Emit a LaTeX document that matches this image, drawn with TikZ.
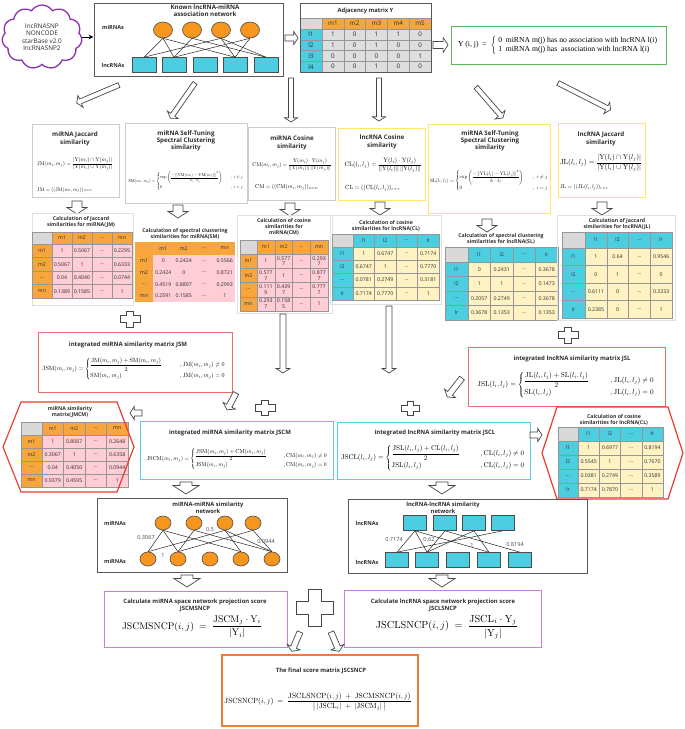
\documentclass[tikz,border=0pt]{standalone}
\usepackage{amsmath}
\usepackage[no-math]{fontspec}
\usepackage{graphicx}
\setmainfont{Open Sans}
\newfontfamily\serifrm{Liberation Serif}
\usetikzlibrary{shapes.geometric,shapes.symbols,arrows.meta}

\definecolor{miorange}{RGB}{247,166,62}
\definecolor{nodeorange}{RGB}{247,150,30}
\definecolor{lncblue}{RGB}{77,206,224}
\definecolor{mipink}{RGB}{255,205,214}
\definecolor{lncyellow}{RGB}{255,243,196}
\definecolor{cornergray}{RGB}{217,217,217}
\definecolor{adjgray}{RGB}{222,222,222}
\definecolor{gridgray}{RGB}{150,150,150}
\definecolor{txtgray}{RGB}{45,45,45}
\definecolor{panelgray}{RGB}{205,205,205}
\definecolor{paleyellow}{RGB}{255,228,110}
\definecolor{palered}{RGB}{230,110,110}
\definecolor{hexred}{RGB}{232,62,50}
\definecolor{jscyan}{RGB}{90,205,232}
\definecolor{sncpviolet}{RGB}{205,125,225}
\definecolor{finalorange}{RGB}{237,125,49}
\definecolor{boxgreen}{RGB}{90,185,90}
\definecolor{cloudpurple}{RGB}{140,50,180}
\definecolor{arrowgray}{RGB}{70,70,70}

\tikzset{
  cell/.style={draw=gridgray, line width=0.4, inner sep=0, align=center, text=txtgray,
    font=\fontsize{5.2}{5.6}\selectfont},
  micorner/.style={fill=cornergray}, mihead/.style={fill=miorange}, mibody/.style={fill=mipink},
  lnccorner/.style={fill=cornergray}, lnchead/.style={fill=lncblue}, lncbody/.style={fill=lncyellow},
  smcorner/.style={fill=miorange, draw=none}, smhead/.style={fill=miorange, draw=none},
  smbody/.style={fill=mipink, draw=none},
  ttl/.style={align=center, inner sep=0, text=txtgray, font=\bfseries\fontsize{6.2}{7.3}\selectfont},
  tabttl/.style={align=center, inner sep=0, text=txtgray, font=\bfseries\fontsize{5.2}{6.2}\selectfont},
  fml/.style={inner sep=0},
  harrow/.style={draw=arrowgray, fill=white, line width=0.7},
  link/.style={draw=black!85, line width=0.5},
  mnode/.style={ellipse, draw=black!70, fill=nodeorange, line width=0.6, inner sep=0},
  lnode/.style={rectangle, draw=black!70, fill=lncblue, line width=0.6, inner sep=0},
  side/.style={inner sep=0, text=txtgray, font=\bfseries\fontsize{5.5}{6}\selectfont},
  elabel/.style={inner sep=0, text=black!70, font=\fontsize{5.6}{6}\selectfont},
  frame/.style={draw=black!12, line width=0.5}
}

\newcommand{\fitmath}[2]{\resizebox{#1pt}{!}{$\displaystyle #2$}}

% name, first col w, col w, head h, row h, kind, labels, rows
\newcommand{\simtable}[8]{%
  \node[cell, #6corner, minimum width=#2, minimum height=#4] (#1-0-0) at ({#2/2},{#4/2}) {};
  \foreach \lab [count=\ci] in {#7} {
    \node[cell, #6head, minimum width=#3, minimum height=#4] (#1-0-\ci) at ({#2+(\ci-0.5)*#3},{#4/2}) {\lab};
    \node[cell, #6head, minimum width=#2, minimum height=#5] (#1-\ci-0) at ({#2/2},{#4+(\ci-0.5)*#5}) {\lab};
  }
  \foreach \rowlist [count=\ri] in {#8} {
    \foreach \val [count=\ci] in \rowlist {
      \node[cell, #6body, minimum width=#3, minimum height=#5] (#1-\ri-\ci) at ({#2+(\ci-0.5)*#3},{#4+(\ri-0.5)*#5}) {\val};
    }
  }
}

% tail x, tail y, angle, length, shaft half width, head half width
\newcommand{\hollowarrow}[6]{%
  \begin{scope}[shift={(#1,#2)}, rotate=#3]
    \draw[harrow] (0,-#5) -- ({#4-0.65*#6},-#5) -- ({#4-0.65*#6},-#6) -- (#4,0)
      -- ({#4-0.65*#6},#6) -- ({#4-0.65*#6},#5) -- (0,#5) -- cycle;
  \end{scope}}

% x, y, half width, half height, half thickness
\newcommand{\plusmark}[5]{%
  \draw[harrow] ({#1-#5},{#2-#4}) -- ({#1+#5},{#2-#4}) -- ({#1+#5},{#2-#5}) -- ({#1+#3},{#2-#5})
    -- ({#1+#3},{#2+#5}) -- ({#1+#5},{#2+#5}) -- ({#1+#5},{#2+#4}) -- ({#1-#5},{#2+#4})
    -- ({#1-#5},{#2+#5}) -- ({#1-#3},{#2+#5}) -- ({#1-#3},{#2-#5}) -- ({#1-#5},{#2-#5}) -- cycle;}

\begin{document}
\begin{tikzpicture}[x=1pt, y=-1pt]
 \useasboundingbox[fill=white] (0,0) rectangle (685,729);

 %sources and known network
 \node[cloud, cloud puffs=11, cloud puff arc=115, aspect=1.25, draw=cloudpurple, line width=1.3,
   minimum width=80, minimum height=64, inner sep=0, align=center, text=txtgray,
   font=\fontsize{6.4}{7.4}\selectfont] (src) at (42,37) {lncRNASNP\\NONCODE\\starBase v2.0\\lncRNASNP2};
 \node[draw=black!65, line width=1, minimum width=189, minimum height=73, inner sep=0] (netBox) at (188.5,39.5) {};
 \draw[-{Stealth[length=5pt,width=4.5pt]}, line width=0.8] (src.east) -- (src.east -| netBox.west);
 \node[ttl] (netTitle) at (205,11) {Known lncRNA-miRNA\\association network};
 \node[side] (netMi) at (113,27) {miRNAs};
 \node[side] (netLn) at (113,65) {lncRNAs};
 \foreach \x [count=\i] in {163,192,221,250}
   \node[mnode, minimum width=19, minimum height=16] (mi\i) at (\x,30) {};
 \foreach \x [count=\i] in {144,174,205,235,266}
   \node[lnode, minimum width=24, minimum height=15] (ln\i) at (\x,65) {};
 \foreach \a/\b in {1/1,1/2,1/4,2/2,2/5,3/1,3/4,3/5,4/2,4/4}
   \draw[link] (mi\a.south) -- (ln\b.north);

 %adjacency matrix
 \begin{scope}[shift={(300,18)}]
  \node[cell, fill=cornergray, minimum width=22, minimum height=11] (Y-0-0) at (11,5.5) {};
  \foreach \lab [count=\ci] in {m1,m2,m3,m4,m5}
    \node[cell, fill=miorange, minimum width=21.8, minimum height=11, font=\fontsize{6.3}{7}\selectfont]
      (Y-0-\ci) at ({22+(\ci-0.5)*21.8},5.5) {\lab};
  \foreach \rowlist [count=\ri] in {{1,0,1,1,0},{1,0,1,0,0},{0,0,0,0,1},{0,0,1,0,0}} {
    \node[cell, fill=lncblue, minimum width=22, minimum height=10.75, font=\fontsize{6.3}{7}\selectfont]
      (Y-\ri-0) at (11,{11+(\ri-0.5)*10.75}) {l\ri};
    \foreach \val [count=\ci] in \rowlist
      \node[cell, fill=adjgray, minimum width=21.8, minimum height=10.75, font=\fontsize{6.3}{7}\selectfont]
        (Y-\ri-\ci) at ({22+(\ci-0.5)*21.8},{11+(\ri-0.5)*10.75}) {\val};
  }
 \end{scope}
 \draw[black!65, line width=0.9] (300,3) rectangle (431,72);
 \node[ttl, font=\bfseries\fontsize{5.8}{6.8}\selectfont] (adjTitle) at (365.5,10.5) {Adjacency matrix Y};

 \draw[boxgreen, line width=1] (451,26) rectangle (666,64);
 \node[fml] (yDef) at (558,45) {\resizebox{200pt}{!}{\serifrm Y (i, j)\ \ =\ \ $\left\{\begin{tabular}{@{\ }l@{\ \ }l@{}}0 & miRNA m(j) has no association with lncRNA l(i)\\ 1 & miRNA m(j) has\ \ association with lncRNA l(i)\end{tabular}\right.$}};

 \hollowarrow{285}{38}{0}{13}{3}{6.5}
 \hollowarrow{433}{45}{0}{15}{3.5}{7.5}
 \hollowarrow{119}{85}{-157}{46}{2.5}{6.5}
 \hollowarrow{195}{83}{-125}{43}{2.5}{6.5}
 \hollowarrow{291}{78}{-90}{44}{2.5}{6.5}
 \hollowarrow{379}{78}{-90}{43}{2.5}{6.5}
 \hollowarrow{476}{87}{-49}{41}{2.5}{6.5}
 \hollowarrow{558}{83}{-27}{59}{2.5}{6.5}

 %similarity measures
 \draw[panelgray, line width=0.9] (32,124) rectangle (119,197);
 \node[ttl] (jmTitle) at (75,139) {miRNA Jaccard\\similarity};
 \node[fml] (jmF) at (75,164) {\fitmath{76}{\mathrm{JM}(m_i,m_j)=\frac{|\mathrm{Y}(m_i)\cap\mathrm{Y}(m_j)|}{|\mathrm{Y}(m_i)\cup\mathrm{Y}(m_j)|}}};
 \node[fml, anchor=west] (jmG) at (37,190) {\fitmath{55}{\mathrm{JM}=((\mathrm{JM}(m_i,m_j))_{n\times n}}};

 \draw[panelgray, line width=0.9] (125,123) rectangle (247,203);
 \node[ttl] (smTitle) at (186,141) {miRNA Self-Tuning\\Spectral Clustering\\similarity};
 \node[fml] (smF) at (186,181) {\fitmath{115}{\mathrm{SM}(m_i,m_j)=\begin{cases}\exp\left(\dfrac{-\left\|\mathrm{YM}(m_i)-\mathrm{YM}(m_j)\right\|^2}{\delta_i\cdot\delta_j}\right) & \quad,\ i\neq j\\[8pt] 0 & \quad,\ i=j\end{cases}}};

 \draw[panelgray, line width=0.9] (248,127) rectangle (335,200);
 \node[ttl] (cmTitle) at (292,143) {miRNA Cosine\\similarity};
 \node[fml] (cmF) at (292,165) {\fitmath{79}{\mathrm{CM}(m_i,m_j)=\frac{\mathrm{Y}(m_i)\cdot\mathrm{Y}(m_j)}{\|\mathrm{Y}(m_i)\|\,\|\mathrm{Y}(m_j)\|}}};
 \node[fml, anchor=west] (cmG) at (255,187) {\fitmath{63}{\mathrm{CM}=((\mathrm{CM}(m_i,m_j))_{n\times n}}};

 \draw[paleyellow, line width=0.9] (338,128) rectangle (425,200);
 \node[ttl] (clTitle) at (382,142) {lncRNA Cosine\\similarity};
 \node[fml] (clF) at (383,165) {\fitmath{77}{\mathrm{CL}(l_i,l_j)=\frac{\mathrm{Y}(l_i)\cdot\mathrm{Y}(l_j)}{\|\mathrm{Y}(l_i)\|\,\|\mathrm{Y}(l_j)\|}}};
 \node[fml, anchor=west] (clG) at (345,188) {\fitmath{55}{\mathrm{CL}=((\mathrm{CL}(l_i,l_j))_{r\times r}}};

 \draw[paleyellow, line width=0.9] (428,124) rectangle (550,213);
 \node[ttl] (slTitle) at (490,141) {miRNA Self-Tuning\\Spectral Clustering\\similarity};
 \node[fml] (slF) at (489,181) {\fitmath{118}{\mathrm{SL}(l_i,l_j)=\begin{cases}\exp\left(\dfrac{-\left\|\mathrm{YL}(l_i)-\mathrm{YL}(l_j)\right\|^2}{\delta_i\cdot\delta_j}\right) & \quad,\ i\neq j\\[8pt] 0 & \quad,\ i=j\end{cases}}};

 \draw[paleyellow, line width=0.9] (558,123) rectangle (645,197);
 \node[ttl] (jlTitle) at (601,139) {lncRNA Jaccard\\similarity};
 \node[fml] (jlF) at (601,163) {\fitmath{82}{\mathrm{JL}(l_i,l_j)=\frac{|\mathrm{Y}(l_i)\cap\mathrm{Y}(l_j)|}{|\mathrm{Y}(l_i)\cup\mathrm{Y}(l_j)|}}};
 \node[fml, anchor=west] (jlG) at (560,187) {\fitmath{48}{\mathrm{JL}=((\mathrm{JL}(l_i,l_j))_{r\times r}}};

 \foreach \x/\y in {77/201,178/205,290/203,380/202,487/219,602/202} {
   \hollowarrow{\x}{\y}{-90}{13}{5}{10}
 }

 %similarity tables
 \draw[frame] (32,213) rectangle (133,305);
 \node[tabttl] (jmtTitle) at (81,222) {Calculation of Jaccard\\similarities for miRNA(JM)};
 \begin{scope}[shift={(32,232)}]
  \simtable{JM}{20}{20}{12}{13.5}{mi}{m1,m2,\dots,mn}
   {{1,0.5067,\dots,0.2295},{0.5067,1,\dots,0.6333},{0.04,0.4040,\dots,0.0744},{0.1389,0.1585,\dots,1}}
 \end{scope}

 \node[tabttl] (smtTitle) at (185,234) {Calculation of spectral clustering\\similarities for miRNA(SM)};
 \begin{scope}[shift={(135,242)}]
  \simtable{SM}{18}{20.5}{13}{11.75}{sm}{m1,m2,\dots,mn}
   {{0,0.2424,\dots,0.5566},{0.2424,0,\dots,0.8721},{0.4519,0.8897,\dots,0.2993},{0.2591,0.1585,\dots,1}}
 \end{scope}

 \draw[frame] (237,215) rectangle (332,313);
 \node[tabttl] (cmtTitle) at (284,227) {Calculation of cosine\\similarities for\\miRNA(CM)};
 \begin{scope}[shift={(240,240)}]
  \simtable{CM}{17}{17.75}{14}{14.25}{mi}{m1,m2,\dots,mn}
   {{1,0.577\\7,\dots,0.293\\7},{0.577\\7,1,\dots,0.877\\7},{0.111\\9,0.439\\7,\dots,0.777\\7},{0.293\\7,0.158\\5,\dots,1}}
 \end{scope}

 \draw[frame] (330,215) rectangle (441,304);
 \node[tabttl] (cltTitle) at (386,226) {Calculation of cosine\\similarities for lncRNA(CL)};
 \begin{scope}[shift={(332,234)}]
  \simtable{CL}{21}{21.5}{13}{13.25}{lnc}{l1,l2,\dots,lr}
   {{1,0.6747,\dots,0.7174},{0.6747,1,\dots,0.7770},{0.0781,0.2749,\dots,0.3181},{0.7174,0.7770,\dots,1}}
 \end{scope}

 \node[tabttl] (sltTitle) at (501,239) {Calculation of spectral clustering\\similarities for lncRNA(SL)};
 \begin{scope}[shift={(445,247)}]
  \simtable{SL}{23}{22.5}{15}{14.5}{lnc}{l1,l2,\dots,lr}
   {{0,0.2431,\dots,0.3678},{1,1,\dots,0.1473},{0.2057,0.2749,\dots,0.3678},{0.3678,0.1353,\dots,0.1353}}
 \end{scope}

 \draw[frame] (557,215) rectangle (675,320);
 \node[tabttl] (jltTitle) at (617,224) {Calculation of Jaccard\\similarities for lncRNA(JL)};
 \begin{scope}[shift={(562,232)}]
  \simtable{JL}{23}{21.75}{16}{17.5}{lnc}{l1,l2,\dots,lr}
   {{1,0.64,\dots,0.9546},{0,1,\dots,0},{0.6111,0,\dots,0.3333},{0.2385,0,\dots,1}}
 \end{scope}

 %integration
 \plusmark{130}{319}{10}{8}{3.2}
 \plusmark{568}{335}{10}{8}{3.2}
 \hollowarrow{283}{314}{-90}{59}{3}{7}
 \hollowarrow{389}{306}{-90}{67}{3}{7}

 \draw[palered, line width=0.9] (38,332) rectangle (232,392);
 \node[ttl, font=\bfseries\fontsize{6}{7}\selectfont] (jsmTitle) at (128,345) {integrated miRNA similarity matrix JSM};
 \node[fml] (jsmF) at (134,369) {\fitmath{183}{\mathrm{JSM}(m_i,m_j)=\begin{cases}\dfrac{\mathrm{JM}(m_i,m_j)+\mathrm{SM}(m_i,m_j)}{2} & \qquad,\mathrm{JM}(m_i,m_j)\neq 0\\ \mathrm{SM}(m_i,m_j) & \qquad,\mathrm{JM}(m_i,m_j)=0\end{cases}}};

 \draw[palered, line width=0.9] (468,347) rectangle (665,406);
 \node[ttl, font=\bfseries\fontsize{6}{7}\selectfont] (jslTitle) at (572,359) {integrated lncRNA similarity matrix JSL};
 \node[fml] (jslF) at (566,385) {\fitmath{177}{\mathrm{JSL}(l_i,l_j)=\begin{cases}\dfrac{\mathrm{JL}(l_i,l_j)+\mathrm{SL}(l_i,l_j)}{2} & \qquad,\mathrm{JL}(l_i,l_j)\neq 0\\ \mathrm{SL}(l_i,l_j) & \qquad,\mathrm{JL}(l_i,l_j)=0\end{cases}}};

 \hollowarrow{236}{393}{-118}{19}{3}{7}
 \hollowarrow{462}{378}{-128}{24}{3}{7}
 \plusmark{265}{408}{10}{7.5}{3.2}
 \plusmark{410}{408}{9}{7}{3}

 \draw[jscyan, line width=0.9] (140,421) rectangle (333,479);
 \node[ttl, font=\bfseries\fontsize{6}{7}\selectfont] (jscmTitle) at (230,433) {integrated miRNA similarity matrix JSCM};
 \node[fml] (jscmF) at (237,459) {\fitmath{181}{\mathrm{JSCM}(m_i,m_j)=\begin{cases}\dfrac{\mathrm{JSM}(m_i,m_j)+\mathrm{CM}(m_i,m_j)}{2} & \qquad,\mathrm{CM}(m_i,m_j)\neq 0\\ \mathrm{JSM}(m_i,m_j) & \qquad,\mathrm{CM}(m_i,m_j)=0\end{cases}}};

 \draw[jscyan, line width=0.9] (337,422) rectangle (530,479);
 \node[ttl, font=\bfseries\fontsize{6}{7}\selectfont] (jsclTitle) at (435,433) {integrated lncRNA similarity matrix JSCL};
 \node[fml] (jsclF) at (433,458) {\fitmath{184}{\mathrm{JSCL}(l_i,l_j)=\begin{cases}\dfrac{\mathrm{JSL}(l_i,l_j)+\mathrm{CL}(l_i,l_j)}{2} & \qquad,\mathrm{CL}(l_i,l_j)\neq 0\\ \mathrm{JSL}(l_i,l_j) & \qquad,\mathrm{CL}(l_i,l_j)=0\end{cases}}};

 \hollowarrow{142}{413}{180}{12}{3}{6.5}
 \hollowarrow{530}{435}{0}{12}{3}{6.5}

 %hexagon tables
 \node[tabttl] (jmcmTitle) at (70,412) {miRNA similarity\\matrix(JMCM)};
 \begin{scope}[shift={(21,422)}]
  \simtable{JMCM}{21}{21.5}{13}{13}{mi}{m1,m2,\dots,mn}
   {{1,0.8067,\dots,0.2648},{0.3067,1,\dots,0.6358},{0.04,0.4050,\dots,0.0944},{0.9379,0.4595,\dots,1}}
 \end{scope}
 \draw[hexred, line width=1.2] (3,447) -- (21,402) -- (117,402) -- (134,447) -- (117,492) -- (21,492) -- cycle;

 \node[tabttl] (cl2Title) at (614,420) {Calculation of cosine\\similarities for lncRNA(CL)};
 \begin{scope}[shift={(558,427)}]
  \simtable{CLB}{20}{21.25}{14}{14}{lnc}{l1,l2,\dots,lr}
   {{1,0.6977,\dots,0.8194},{0.5545,1,\dots,0.7670},{0.0381,0.2749,\dots,0.3589},{0.7174,0.7870,\dots,1}}
 \end{scope}
 \draw[hexred, line width=1.2] (542,453) -- (557,407) -- (668,407) -- (683,453) -- (668,499) -- (557,499) -- cycle;

 \foreach \x in {186,442} {\hollowarrow{\x}{482}{-90}{12}{6}{13}}

 %similarity networks
 \draw[black!65, line width=1] (97,498) rectangle (287,572);
 \node[ttl, font=\bfseries\fontsize{5.8}{6.8}\selectfont] (mmTitle) at (208,508) {miRNA-miRNA similarity\\network};
 \node[side] (mmTop) at (115,523) {miRNAs};
 \node[side] (mmBot) at (115,561) {miRNAs};
 \foreach \x [count=\i] in {163,194,225,253}
   \node[mnode, minimum width=16, minimum height=14] (mt\i) at (\x,523) {};
 \foreach \x [count=\i] in {148,178,210,241,272}
   \node[mnode, minimum width=16, minimum height=14] (mb\i) at (\x,559) {};
 \foreach \a/\b in {1/1,1/2,1/4,2/2,2/5,3/1,3/4,3/5,4/2,4/5}
   \draw[link] (mt\a.south) -- (mb\b.north);
 \node[elabel] (mw1) at (146,538) {0.3067};
 \node[elabel] (mw2) at (210,530) {0.5};
 \node[elabel] (mw3) at (266,542) {0.0944};
 \node[elabel] (mw4) at (163,555) {1};

 \draw[black!65, line width=1] (348,499) rectangle (587,573);
 \node[ttl, font=\bfseries\fontsize{5.8}{6.8}\selectfont] (llTitle) at (443,508) {lncRNA-lncRNA similarity\\network};
 \node[side] (llTop) at (367,523) {lncRNAs};
 \node[side] (llBot) at (367,562) {lncRNAs};
 \foreach \x [count=\i] in {415,445,474,503}
   \node[lnode, minimum width=23, minimum height=15] (lt\i) at (\x,523) {};
 \foreach \x [count=\i] in {397,427,458,489,520}
   \node[lnode, minimum width=23, minimum height=15] (lb\i) at (\x,560) {};
 \foreach \a/\b in {1/1,1/2,1/4,2/2,2/5,3/2,3/4,4/1}
   \draw[link] (lt\a.south) -- (lb\b.north);
 \node[elabel] (lw1) at (394,540) {0.7174};
 \node[elabel] (lw2) at (429,540) {0.62};
 \node[elabel] (lw3) at (472,545) {1};
 \node[elabel] (lw4) at (515,545) {0.8194};

 \foreach \x in {187,442} {\hollowarrow{\x}{575}{-90}{12}{6}{13}}

 %projection scores
 \draw[sncpviolet, line width=0.9] (104,591) rectangle (287,647);
 \node[ttl, font=\bfseries\fontsize{5.9}{7}\selectfont] (pmTitle) at (195,605) {Calculate miRNA space network projection score\\JSCMSNCP};
 \node[fml] (pmF) at (192,627) {\fitmath{140}{\mathrm{JSCMSNCP}(i,j)\ =\ \frac{\mathrm{JSCM}_j\cdot\mathrm{Y}_i}{|\mathrm{Y}_i|}}};

 \draw[sncpviolet, line width=0.9] (344,590) rectangle (541,647);
 \node[ttl, font=\bfseries\fontsize{5.9}{7}\selectfont] (plTitle) at (443,605) {Calculate lncRNA space network projection score\\JSCLSNCP};
 \node[fml] (plF) at (447,627) {\fitmath{142}{\mathrm{JSCLSNCP}(i,j)\ =\ \frac{\mathrm{JSCL}_i\cdot\mathrm{Y}_j}{|\mathrm{Y}_j|}}};

 \plusmark{315}{608}{18.5}{18.5}{6.5}
 \hollowarrow{300}{632}{-113}{21}{3}{7}
 \hollowarrow{331}{632}{-67}{21}{3}{7}

 %final score
 \draw[finalorange, line width=1.3] (222,655) rectangle (418,726);
 \node[ttl, font=\bfseries\fontsize{5.9}{7}\selectfont] (finTitle) at (321,671) {The final score matrix JSCSNCP};
 \node[fml] (finF) at (318,702) {\fitmath{187}{\mathrm{JSCSNCP}(i,j)\ =\ \frac{\mathrm{JSCLSNCP}(i,j)\ +\ \mathrm{JSCMSNCP}(i,j)}{\big|\,|\mathrm{JSCL}_i|\ +\ |\mathrm{JSCM}_j|\,\big|}}};
\end{tikzpicture}
\end{document}
